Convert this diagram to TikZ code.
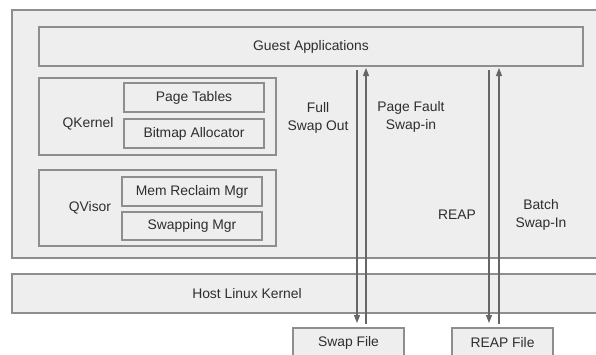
\documentclass[tikz,border=0pt]{standalone}
\usepackage{fontspec}
\setmainfont{Liberation Sans}
\usetikzlibrary{arrows.meta}
\definecolor{boxfill}{HTML}{EEEEEE}
\definecolor{boxline}{HTML}{8E8E8E}
\definecolor{flowline}{HTML}{666666}
\definecolor{txt}{HTML}{2E2E2E}

\begin{document}
\begin{tikzpicture}[x=0.75pt,y=-0.75pt,font=\fontsize{10.4}{13}\selectfont]
    \tikzstyle{every node}=[text=txt,align=center,inner sep=0pt];
    \tikzstyle{box}=[draw=boxline,fill=boxfill,line width=0.9pt,rectangle];
    \tikzstyle{flow}=[draw=flowline,line width=0.8pt,-{Triangle[length=6pt,width=4.5pt]}];

    \useasboundingbox (0,0) rectangle (596,354);
    \clip (0,0) rectangle (596,354);
    \fill[white] (0,0) rectangle (596,354);

    \node at (326,134)   (guest)   [box,minimum width=471pt,minimum height=186pt] {};
    \node at (311,46.5)  (apps)    [box,minimum width=408pt,minimum height=29.25pt] {Guest Applications};
    \node at (157.5,116.5) (qkernel) [box,minimum width=177.75pt,minimum height=57.75pt] {};
    \node at (194,97.5)  (ptables) [box,minimum width=105pt,minimum height=21.75pt] {Page Tables};
    \node at (194,133.5) (bitmap)  [box,minimum width=105pt,minimum height=21.75pt] {Bitmap Allocator};
    \node at (88,124)    (qklabel) {QKernel};
    \node at (157.5,208) (qvisor)  [box,minimum width=177.75pt,minimum height=57pt] {};
    \node at (192,191.5) (memrec)  [box,minimum width=105pt,minimum height=21.75pt] {Mem Reclaim Mgr};
    \node at (192,226)   (swapmgr) [box,minimum width=105pt,minimum height=21pt] {Swapping Mgr};
    \node at (90,208)    (qvlabel) {QVisor};
    \node at (326,293.5) (hostk)   [box,minimum width=471pt,minimum height=29.25pt] {};
    \node at (247,294)   (hklabel) {Host Linux Kernel};
    \node at (348.5,343) (swapf)   [box,minimum width=83.25pt,minimum height=22.5pt] {Swap File};
    \node at (502.5,343) (reapf)   [box,minimum width=75.75pt,minimum height=22.5pt] {REAP File};

    \coordinate (fo1) at (357,70);
    \coordinate (fo2) at (357,323);
    \coordinate (pf1) at (366,324);
    \coordinate (pf2) at (366,68);
    \coordinate (rp1) at (489,70);
    \coordinate (rp2) at (489,323);
    \coordinate (bs1) at (499,324);
    \coordinate (bs2) at (499,68);

    \draw[flow] (fo1) to (fo2);
    \draw[flow] (pf1) to (pf2);
    \draw[flow] (rp1) to (rp2);
    \draw[flow] (bs1) to (bs2);

    \node at (318,118) (fulllabel)  {Full\\Swap Out};
    \node at (411,117) (faultlabel) {Page Fault\\Swap-in};
    \node at (457,215) (reaplabel)  {REAP};
    \node at (541,215) (batchlabel) {Batch\\Swap-In};
\end{tikzpicture}
\end{document}
